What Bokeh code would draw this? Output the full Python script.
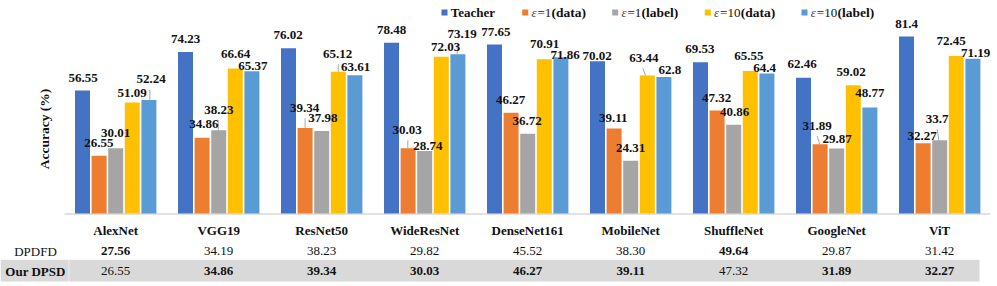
import re
from bokeh.plotting import figure
from bokeh.models import ColumnDataSource, Range1d
from bokeh.core.properties import value, field
from bokeh.embed import file_html
from bokeh.resources import INLINE

# ---------------- data ----------------
MODELS = ["AlexNet", "VGG19", "ResNet50", "WideResNet", "DenseNet161",
          "MobileNet", "ShuffleNet", "GoogleNet", "ViT"]
SERIES = ["Teacher", "ε=1(data)", "ε=1(label)", "ε=10(data)", "ε=10(label)"]
TEACHER = [56.55, 74.23, 76.02, 78.48, 77.65, 70.02, 69.53, 62.46, 81.4]
EPS1_DATA = [26.55, 34.86, 39.34, 30.03, 46.27, 39.11, 47.32, 31.89, 32.27]
EPS1_LABEL = [30.01, 38.23, 37.98, 28.74, 36.72, 24.31, 40.86, 29.87, 33.7]
EPS10_DATA = [51.09, 66.64, 65.12, 72.03, 70.91, 63.44, 65.55, 59.02, 72.45]
EPS10_LABEL = [52.24, 65.37, 63.61, 73.19, 71.86, 62.8, 64.4, 48.77, 71.19]

ROW_NAMES = ["DPDFD", "Our DPSD"]
DPDFD = [27.56, 34.19, 38.23, 29.82, 45.52, 38.30, 49.64, 29.87, 31.42]
OUR_DPSD = [26.55, 34.86, 39.34, 30.03, 46.27, 39.11, 47.32, 31.89, 32.27]

# ---------------- styles / layout ----------------
COLORS = ["#4472C4", "#ED7D31", "#A5A5A5", "#FFC000", "#5B9BD5"]
SERIF = value("Liberation Serif")
TXT = "#111111"

# label offsets in pixels (dx right, dy down) relative to bar top centre
LABEL_DX = [
    [0.7, -0.3, -0.2, -0.1, 2.3],
    [0.0, 1.7, 0.1, 0.2, 0.9],
    [-0.3, -0.6, 1.1, -0.8, 0.6],
    [0.0, -0.9, 3.1, 4.2, 4.3],
    [1.3, -0.6, -0.5, 0.2, 4.2],
    [-0.3, -0.9, -0.2, -3.5, 6.0],
    [-0.7, -0.6, 0.8, -1.5, -2.4],
    [-1.3, -2.9, 0.5, -2.1, -0.1],
    [0.0, -0.9, -2.5, -5.1, 2.6],
]
LABEL_DY = [
    [-12.7, -12.4, -15.0, -9.0, -20.4],
    [-13.0, -13.2, -20.8, -14.4, -5.5],
    [-13.4, -20.1, -12.7, -18.1, -7.9],
    [-13.0, -18.4, -4.8, -9.6, -20.5],
    [-12.4, -12.4, -12.4, -15.5, -2.7],
    [-5.0, -10.2, -12.4, -17.7, -7.4],
    [-13.5, -12.8, -12.4, -15.4, -5.6],
    [-13.9, -18.6, -9.7, -12.9, -14.2],
    [-12.0, -7.8, -21.4, -14.7, -5.9],
]
# leader lines: (group, series) -> (dx at label end, dx at bar end) in px
LEADERS = {(0, 4): (1.0, 1.0), (1, 2): (-0.5, -0.5), (2, 1): (0.0, 0.0),
           (2, 3): (0.0, 0.0), (3, 1): (-0.3, -0.3), (3, 4): (-0.7, -0.7),
           (5, 3): (-4.5, -1.8), (7, 1): (-2.9, -0.6), (8, 2): (-2.5, -0.9)}

PX_X = 103.0    # px per model group
X0_PX = 115.2   # page px of first group centre
PX_Y = 2.175    # px per accuracy %
Y0_PX = 213.0   # page px of 0 %
M = 0
W, H = 993, 284


def xd(px):
    return (px - X0_PX) / PX_X


def yd(py):
    return (Y0_PX - py) / PX_Y


BAR_STEP = 16.6 / PX_X
BAR_W = 15.0 / PX_X

p = figure(width=W, height=H, x_range=Range1d(xd(M), xd(M + W)),
           y_range=Range1d(yd(M + H), yd(M)), output_backend="svg",
           toolbar_location=None, x_axis_location=None, y_axis_location=None,
           min_border=0)
p.outline_line_color = None
p.grid.grid_line_color = None
p.background_fill_color = "white"

# table background band
p.quad(left=xd(0), right=xd(979), bottom=yd(281), top=yd(259.3),
       fill_color="#D9D9D9", line_color=None)
p.segment(x0=xd(68.5), y0=yd(259.3), x1=xd(68.5), y1=yd(281),
          line_color="#EEEEEE", line_width=1)

# baseline
p.segment(x0=xd(64), y0=yd(213.6), x1=xd(990), y1=yd(213.6),
          line_color="#D9D9D9", line_width=1.5)

# bars
all_series = [TEACHER, EPS1_DATA, EPS1_LABEL, EPS10_DATA, EPS10_LABEL]
bx, bt, bc = [], [], []
lx, ly, lt = [], [], []
sx0, sy0, sx1, sy1 = [], [], [], []
for j, ser in enumerate(all_series):
    for i, v in enumerate(ser):
        x = i + (j - 2) * BAR_STEP
        bx.append(x)
        bt.append(v)
        bc.append(COLORS[j])
        lab_x = x + LABEL_DX[i][j] / PX_X
        lab_y = v - LABEL_DY[i][j] / PX_Y
        lx.append(lab_x)
        ly.append(lab_y)
        lt.append(str(v))
        if (i, j) in LEADERS:
            d0, d1 = LEADERS[(i, j)]
            sx0.append(x + d0 / PX_X)
            sy0.append(lab_y - 10.5 / PX_Y)
            sx1.append(x + d1 / PX_X)
            sy1.append(v)

p.vbar(x="x", top="top", bottom=0, width=BAR_W, fill_color="color",
       line_color=None, source=ColumnDataSource(dict(x=bx, top=bt, color=bc)))

p.segment(x0="x0", y0="y0", x1="x1", y1="y1", line_color="#A6A6A6", line_width=1,
          source=ColumnDataSource(dict(x0=sx0, y0=sy0, x1=sx1, y1=sy1)))

p.text(x="x", y="y", text="text", source=ColumnDataSource(dict(x=lx, y=ly, text=lt)),
       text_font=SERIF, text_font_size="13px", text_font_style="bold",
       text_align="center", text_baseline="middle", text_color=TXT)

# y axis title
p.text(x=[xd(44)], y=[yd(128.5)], text=["Accuracy (%)"], angle=1.5707963,
       text_font=SERIF, text_font_size="13.5px", text_font_style="bold",
       text_align="center", text_baseline="middle", text_color=TXT)

# table
gx = list(range(len(MODELS)))
p.text(x=gx, y=[yd(230)] * len(MODELS), text=MODELS, text_font=SERIF,
       text_font_size="13px", text_font_style="bold", text_align="center",
       text_baseline="middle", text_color=TXT)
rows = [DPDFD, OUR_DPSD]
row_py = [250.5, 270.7]
tx, ty, tt, ts = [], [], [], []
for r, vals in enumerate(rows):
    tx.append(xd(35))
    ty.append(yd(row_py[r]))
    tt.append(ROW_NAMES[r])
    ts.append("bold" if r == 1 else "normal")
    for i, v in enumerate(vals):
        best = max(rr[i] for rr in rows)
        tx.append(i)
        ty.append(yd(row_py[r]))
        tt.append(f"{v:.2f}")
        ts.append("bold" if v == best else "normal")
p.text(x="x", y="y", text="text", text_font_style=field("style"),
       source=ColumnDataSource(dict(x=tx, y=ty, text=tt, style=ts)),
       text_font=SERIF, text_font_size="13px", text_align="center",
       text_baseline="middle", text_color=TXT)

# legend (manual)
LEG_LEFT = [441, 521.7, 611.7, 704.3, 801]
LEG_Y = 12
p.scatter(x=[xd(v + 3) for v in LEG_LEFT], y=[yd(LEG_Y)] * 5, marker="square",
          size=6, fill_color=COLORS, line_color=None)
for k, name in enumerate(SERIES):
    start = LEG_LEFT[k] + 9.3
    m = re.match(r"^(ε)(=\d+)(\(.*\))$", name)
    if not m:
        p.text(x=[xd(start)], y=[yd(LEG_Y)], text=[name], text_font=SERIF,
               text_font_size="13px", text_font_style="bold", text_align="left",
               text_baseline="middle", text_color=TXT)
        continue
    eps, eq, par = m.groups()
    eq_w = 7.3 + 6.5 * (len(eq) - 1)
    p.text(x=[xd(start)], y=[yd(LEG_Y)], text=[eps], text_font=SERIF,
           text_font_size="13px", text_font_style="italic", text_align="left",
           text_baseline="middle", text_color="#444444")
    p.text(x=[xd(start + 6)], y=[yd(LEG_Y)], text=[eq], text_font=SERIF,
           text_font_size="13px", text_font_style="normal", text_align="left",
           text_baseline="middle", text_color=TXT)
    p.text(x=[xd(start + 6 + eq_w + 0.3)], y=[yd(LEG_Y)], text=[par],
           text_font=SERIF, text_font_size="13.5px", text_font_style="bold",
           text_align="left", text_baseline="middle", text_color=TXT)

open("out.html", "w").write(file_html(p, INLINE))
